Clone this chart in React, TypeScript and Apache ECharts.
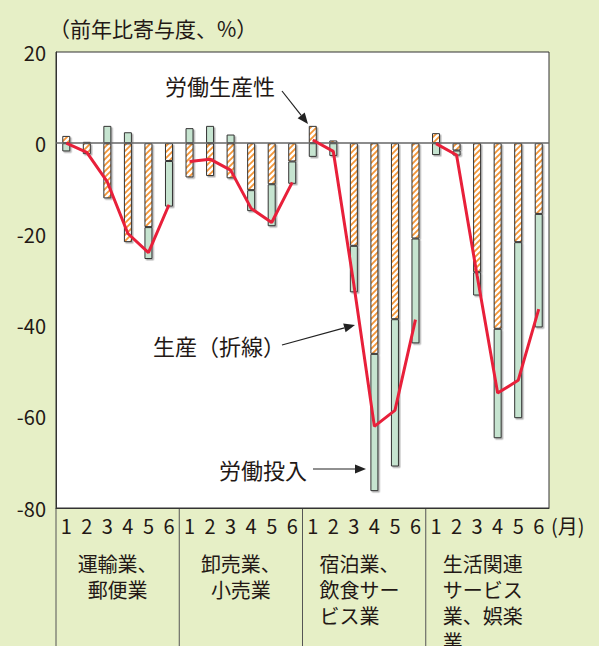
import React, { useEffect, useRef } from 'react';
import * as echarts from 'echarts';

const months = ['1', '2', '3', '4', '5', '6'];
const groupLabels = [
  '運輸業、\n郵便業',
  '卸売業、\n小売業',
  '宿泊業、\n飲食サー\nビス業',
  '生活関連\nサービス\n業、娯楽\n業',
];
const groupAlign = ['center', 'center', 'left', 'left'];

// 労働生産性 (hatched)
const productivity = [
  1.6, -2.4, -12.1, -21.7, -18.4, -3.9,
  -7.5, -7.2, -7.7, -10.3, -9.0, -4.0,
  3.8, 0.6, -22.5, -46.2, -38.6, -20.9,
  2.2, -1.6, -28.3, -40.7, -21.7, -15.5,
];
// 労働投入 (green)
const laborInput = [
  -1.8, 0.3, 3.8, 2.4, -7.0, -10.0,
  3.3, 3.8, 1.9, -4.6, -9.2, -4.9,
  -3.0, -2.8, -10.2, -30.1, -32.3, -23.0,
  -2.6, -1.1, -5.1, -24.0, -38.6, -24.9,
];
// 生産 (line), one list per industry
const productionTransport = [0, -2.0, -8.5, -19.8, -24.0, -13.5];
const productionWholesale = [-4.0, -3.5, -5.9, -14.3, -17.4, -8.6];
const productionHotel = [0.7, -1.8, -31.0, -62.1, -58.6, -38.7];
const productionLiving = [-0.1, -2.6, -29.0, -54.8, -52.0, -36.4];
const productionGroups = [productionTransport, productionWholesale, productionHotel, productionLiving];

const yMin = -80;
const yMax = 20;
const yInterval = 20;

const categories = groupLabels.flatMap((_, gi) => months.map((m) => `${gi}-${m}`));

const FONT = '"Noto Sans CJK JP", "Noto Sans", sans-serif';
const TEXT = '#231815';
const BG = '#e6efc6';

function arrow(x1: number, y1: number, x2: number, y2: number) {
  const ang = Math.atan2(y2 - y1, x2 - x1);
  const len = 11;
  const hw = 4.5;
  const bx = x2 - len * Math.cos(ang);
  const by = y2 - len * Math.sin(ang);
  const px = -Math.sin(ang) * hw;
  const py = Math.cos(ang) * hw;
  return [
    {
      type: 'line',
      shape: { x1, y1, x2: bx, y2: by },
      style: { stroke: '#222', lineWidth: 1.2 },
      z: 20,
    },
    {
      type: 'polygon',
      shape: { points: [[x2, y2], [bx + px, by + py], [bx - px, by - py]] },
      style: { fill: '#222' },
      z: 20,
    },
  ];
}

function hatchImage(): string {
  const c = document.createElement('canvas');
  c.width = 6;
  c.height = 6;
  const ctx = c.getContext('2d');
  if (!ctx) return '';
  ctx.fillStyle = '#ffffff';
  ctx.fillRect(0, 0, 6, 6);
  ctx.strokeStyle = '#f39638';
  ctx.lineWidth = 1.8;
  ctx.beginPath();
  ctx.moveTo(0, 6);
  ctx.lineTo(6, 0);
  ctx.moveTo(-3, 3);
  ctx.lineTo(3, -3);
  ctx.moveTo(3, 9);
  ctx.lineTo(9, 3);
  ctx.stroke();
  return c.toDataURL();
}

export default function App() {
  const ref = useRef<HTMLDivElement>(null);

  useEffect(() => {
    if (!ref.current) return;
    const chart = echarts.init(ref.current, null, { renderer: 'svg' });

    const lineSeries = productionGroups.map((vals, gi) => ({
      type: 'line',
      name: '生産',
      data: categories.map((_, i) => (Math.floor(i / 6) === gi ? vals[i % 6] : '-')),
      symbol: 'none',
      connectNulls: false,
      lineStyle: { color: '#e8203a', width: 3 },
      z: 10,
    }));

    const hatch = hatchImage();

    const option: any = {
      animation: false,
      backgroundColor: BG,
      textStyle: { fontFamily: FONT },
      grid: {
        left: 56,
        top: 52,
        right: 50,
        bottom: 138,
        show: true,
        backgroundColor: '#ffffff',
        borderColor: '#333',
        borderWidth: 1,
      },
      xAxis: {
        type: 'category',
        data: categories,
        boundaryGap: true,
        axisLine: { show: true, onZero: false, lineStyle: { color: '#333', width: 1 } },
        axisTick: { show: false },
        splitLine: { show: false },
        axisLabel: {
          interval: 0,
          formatter: (v: string) => v.split('-')[1],
          fontSize: 20,
          color: TEXT,
          margin: 7,
          fontFamily: FONT,
        },
      },
      yAxis: {
        type: 'value',
        min: yMin,
        max: yMax,
        interval: yInterval,
        axisLine: { show: true, lineStyle: { color: '#333', width: 1 } },
        axisTick: { show: false },
        splitLine: { show: false },
        axisLabel: { fontSize: 20, color: TEXT, margin: 10, fontFamily: FONT },
      },
      series: [
        {
          type: 'bar',
          name: '労働生産性',
          stack: 'total',
          barWidth: 8,
          data: productivity,
          itemStyle: {
            color: { image: hatch, repeat: 'repeat' },
            borderColor: '#333',
            borderWidth: 1,
            shadowColor: 'rgba(0,0,0,0.3)',
            shadowOffsetX: 1.5,
            shadowOffsetY: 1.5,
            shadowBlur: 0,
          },
        },
        {
          type: 'bar',
          name: '労働投入',
          stack: 'total',
          barWidth: 8,
          data: laborInput,
          itemStyle: {
            color: '#c6e4d0',
            borderColor: '#333',
            borderWidth: 1,
            shadowColor: 'rgba(0,0,0,0.3)',
            shadowOffsetX: 1.5,
            shadowOffsetY: 1.5,
            shadowBlur: 0,
          },
          markLine: {
            silent: true,
            symbol: 'none',
            label: { show: false },
            lineStyle: { color: '#666', width: 1.5, type: 'solid' },
            data: [{ yAxis: 0 }],
          },
        },
        ...lineSeries,
      ],
    };

    chart.setOption(option);

    const cx = (i: number) => chart.convertToPixel({ xAxisIndex: 0 }, categories[i]) as number;
    const cy = (v: number) => chart.convertToPixel({ yAxisIndex: 0 }, v) as number;
    const band = cx(1) - cx(0);
    const bottomY = cy(yMin);

    const graphics: any[] = [];
    // title
    graphics.push({
      type: 'text',
      x: 49,
      y: 28,
      style: { text: '（前年比寄与度、%）', font: `21px ${FONT}`, fill: TEXT, verticalAlign: 'middle' },
    });
    // month unit
    graphics.push({
      type: 'text',
      x: 551,
      y: bottomY + 17,
      style: { text: '(月)', font: `20px ${FONT}`, fill: TEXT, verticalAlign: 'middle' },
    });
    // separators and group labels
    groupLabels.forEach((lab, gi) => {
      const left = cx(gi * 6) - band / 2;
      const right = cx(gi * 6 + 5) + band / 2;
      graphics.push({
        type: 'line',
        shape: { x1: left, y1: bottomY, x2: left, y2: 646 },
        style: { stroke: '#555', lineWidth: 1 },
      });
      const align = groupAlign[gi];
      graphics.push({
        type: 'text',
        x: align === 'center' ? (left + right) / 2 : left + 17,
        y: bottomY + 42,
        style: {
          text: lab,
          font: `20px ${FONT}`,
          fill: TEXT,
          align,
          verticalAlign: 'top',
          lineHeight: 26,
        },
      });
    });
    // annotations
    graphics.push({
      type: 'text',
      x: 165,
      y: 85,
      style: { text: '労働生産性', font: `22px ${FONT}`, fill: TEXT, verticalAlign: 'middle' },
      z: 20,
    });
    graphics.push(...arrow(282, 91, 308, 124));
    graphics.push({
      type: 'text',
      x: 153,
      y: 345,
      style: { text: '生産（折線）', font: `22px ${FONT}`, fill: TEXT, verticalAlign: 'middle' },
      z: 20,
    });
    graphics.push(...arrow(282, 345, 355, 325));
    graphics.push({
      type: 'text',
      x: 219,
      y: 469,
      style: { text: '労働投入', font: `22px ${FONT}`, fill: TEXT, verticalAlign: 'middle' },
      z: 20,
    });
    graphics.push(...arrow(313, 469, 366, 469));

    chart.setOption({ graphic: graphics });

    return () => chart.dispose();
  }, []);

  return (
    <div
      ref={ref}
      style={{ position: 'fixed', left: 0, top: 0, width: 599, height: 646, background: BG }}
    />
  );
}
